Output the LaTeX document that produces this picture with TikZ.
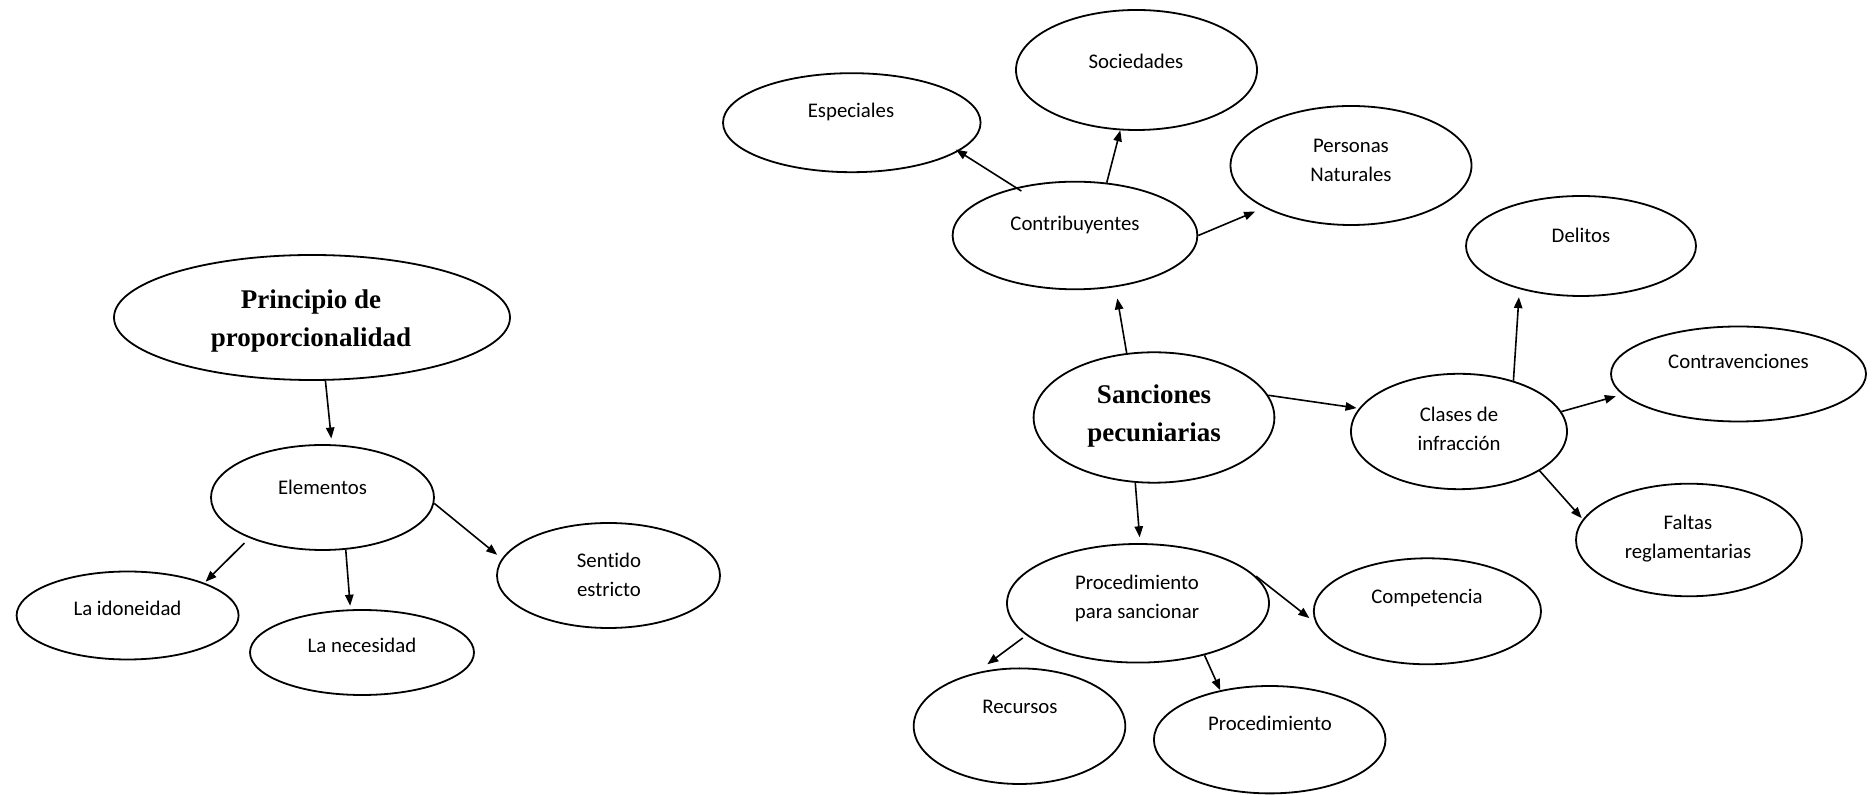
\documentclass[tikz,border=0pt]{standalone}
\usepackage{fontspec}
\newfontfamily\ovalfont{Carlito}[Ligatures=NoCommon]
\newfontfamily\headfont{Liberation Serif}
\usetikzlibrary{arrows.meta,shapes.geometric}

\begin{document}
\begin{tikzpicture}[x=0.5pt,y=-0.5pt,
  oval/.style 2 args={draw, ellipse, line width=0.9pt, inner sep=0pt,
    minimum width=#1, minimum height=#2},
  txt/.style={font=\ovalfont\fontsize{10.4}{14.25}\selectfont, align=flush center,
    text width=160pt, anchor=base, inner sep=0pt},
  head/.style={font=\headfont\bfseries\fontsize{13.5}{18.75}\selectfont, align=flush center,
    text width=200pt, anchor=base, inner sep=0pt},
  conn/.style={line width=0.8pt, -{Triangle[length=5.5pt,width=4.2pt]}}]

\path[use as bounding box] (0,0) rectangle (1876,795);

% ---- left map: principle of proportionality
\node[oval={198pt}{62.5pt}]  (prin) at (312,317.5) {};
\node[head] (prin-t) at (311,309) {Principio de\\proporcionalidad};
\node[oval={111.5pt}{52.5pt}] (elem) at (322.5,497.5) {};
\node[txt] (elem-t) at (322.5,495) {Elementos};
\node[oval={111pt}{44pt}]   (idon) at (127.6,615.5) {};
\node[txt] (idon-t) at (127.5,616) {La idoneidad};
\node[oval={112pt}{42.5pt}]   (nece) at (362,652.5) {};
\node[txt] (nece-t) at (362,652.7) {La necesidad};
\node[oval={111.5pt}{52.5pt}] (sent) at (608.5,575.5) {};
\node[txt] (sent-t) at (609,568) {Sentido\\estricto};

% ---- right map: pecuniary sanctions
\node[oval={128.8pt}{49.5pt}]  (espe) at (851.8,122.7) {};
\node[txt] (espe-t) at (851,118) {Especiales};
\node[oval={120.5pt}{60pt}] (soci) at (1136.5,70) {};
\node[txt] (soci-t) at (1136,69) {Sociedades};
\node[oval={120.5pt}{59.5pt}] (pers) at (1351,165.5) {};
\node[txt] (pers-t) at (1351,152.7) {Personas\\Naturales};
\node[oval={122.4pt}{53.8pt}] (cont) at (1075,235.5) {};
\node[txt] (cont-t) at (1075,230.5) {Contribuyentes};
\node[oval={115pt}{50pt}]   (deli) at (1581,246) {};
\node[txt] (deli-t) at (1581,242.3) {Delitos};
\node[oval={127.5pt}{47.5pt}]  (ctrv) at (1738.5,374) {};
\node[txt] (ctrv-t) at (1738.5,368.3) {Contravenciones};
\node[oval={120.4pt}{65.2pt}] (sanc) at (1154,417.5) {};
\node[head] (sanc-t) at (1154,404) {Sanciones\\pecuniarias};
\node[oval={108pt}{57.7pt}] (clas) at (1459,431.5) {};
\node[txt] (clas-t) at (1459,421.7) {Clases de\\infracción};
\node[oval={113pt}{56.3pt}] (falt) at (1689,540) {};
\node[txt] (falt-t) at (1688,530) {Faltas\\reglamentarias};
\node[oval={131pt}{59.3pt}] (proc) at (1138,603.3) {};
\node[txt] (proc-t) at (1137,590) {Procedimiento\\para sancionar};
\node[oval={113.6pt}{53pt}] (comp) at (1427.4,611.3) {};
\node[txt] (comp-t) at (1427,603.3) {Competencia};
\node[oval={105.8pt}{57.8pt}] (recu) at (1019.5,726.2) {};
\node[txt] (recu-t) at (1020,713.3) {Recursos};
\node[oval={115.8pt}{53.7pt}] (pmto) at (1269.7,739.7) {};
\node[txt] (pmto-t) at (1270,730.7) {Procedimiento};

% ---- connectors, left map
\draw[conn, shorten >=2.9pt] (prin.-78.5) -- (elem.80.6);
\draw[conn, shorten <=3.5pt, shorten >=0.8pt] (elem.209.9) -- (idon.23.8);
\draw[conn, shorten >=1.8pt] (elem.-66.9) -- (nece.105.5);
\draw[conn, shorten >=3pt] (elem.-3.8) -- (sent.171);

% ---- connectors, right map
\draw[conn, shorten >=5.7pt] (sanc.113.8) -- (cont.-52.7);
\draw[conn, shorten <=-3.3pt, shorten >=-1.6pt] (cont.141.9) -- (espe.-15);
\draw[conn] (cont.59.1) -- (soci.-105.5);
\draw[conn, shorten >=5pt] (cont.-0.9) -- (pers.206.6);
\draw[conn, shorten >=1.2pt] (sanc.11.4) -- (clas.167.1);
\draw[conn, shorten >=4pt] (clas.43.4) -- (deli.215.7);
\draw[conn, shorten >=3.3pt] (clas.11.3) -- (ctrv.190.9);
\draw[conn, shorten >=0.8pt] (clas.-26.5) -- (falt.169);
\draw[conn, shorten >=2.9pt] (sanc.-106.7) -- (proc.88.6);
\draw[conn, shorten <=2.7pt, shorten >=4pt] (proc.15) -- (comp.186.4);
\draw[conn, shorten <=2.2pt, shorten >=7pt] (proc.196.7) -- (recu.129.1);
\draw[conn] (proc.-38.6) -- (pmto.135.1);

\end{tikzpicture}
\end{document}
